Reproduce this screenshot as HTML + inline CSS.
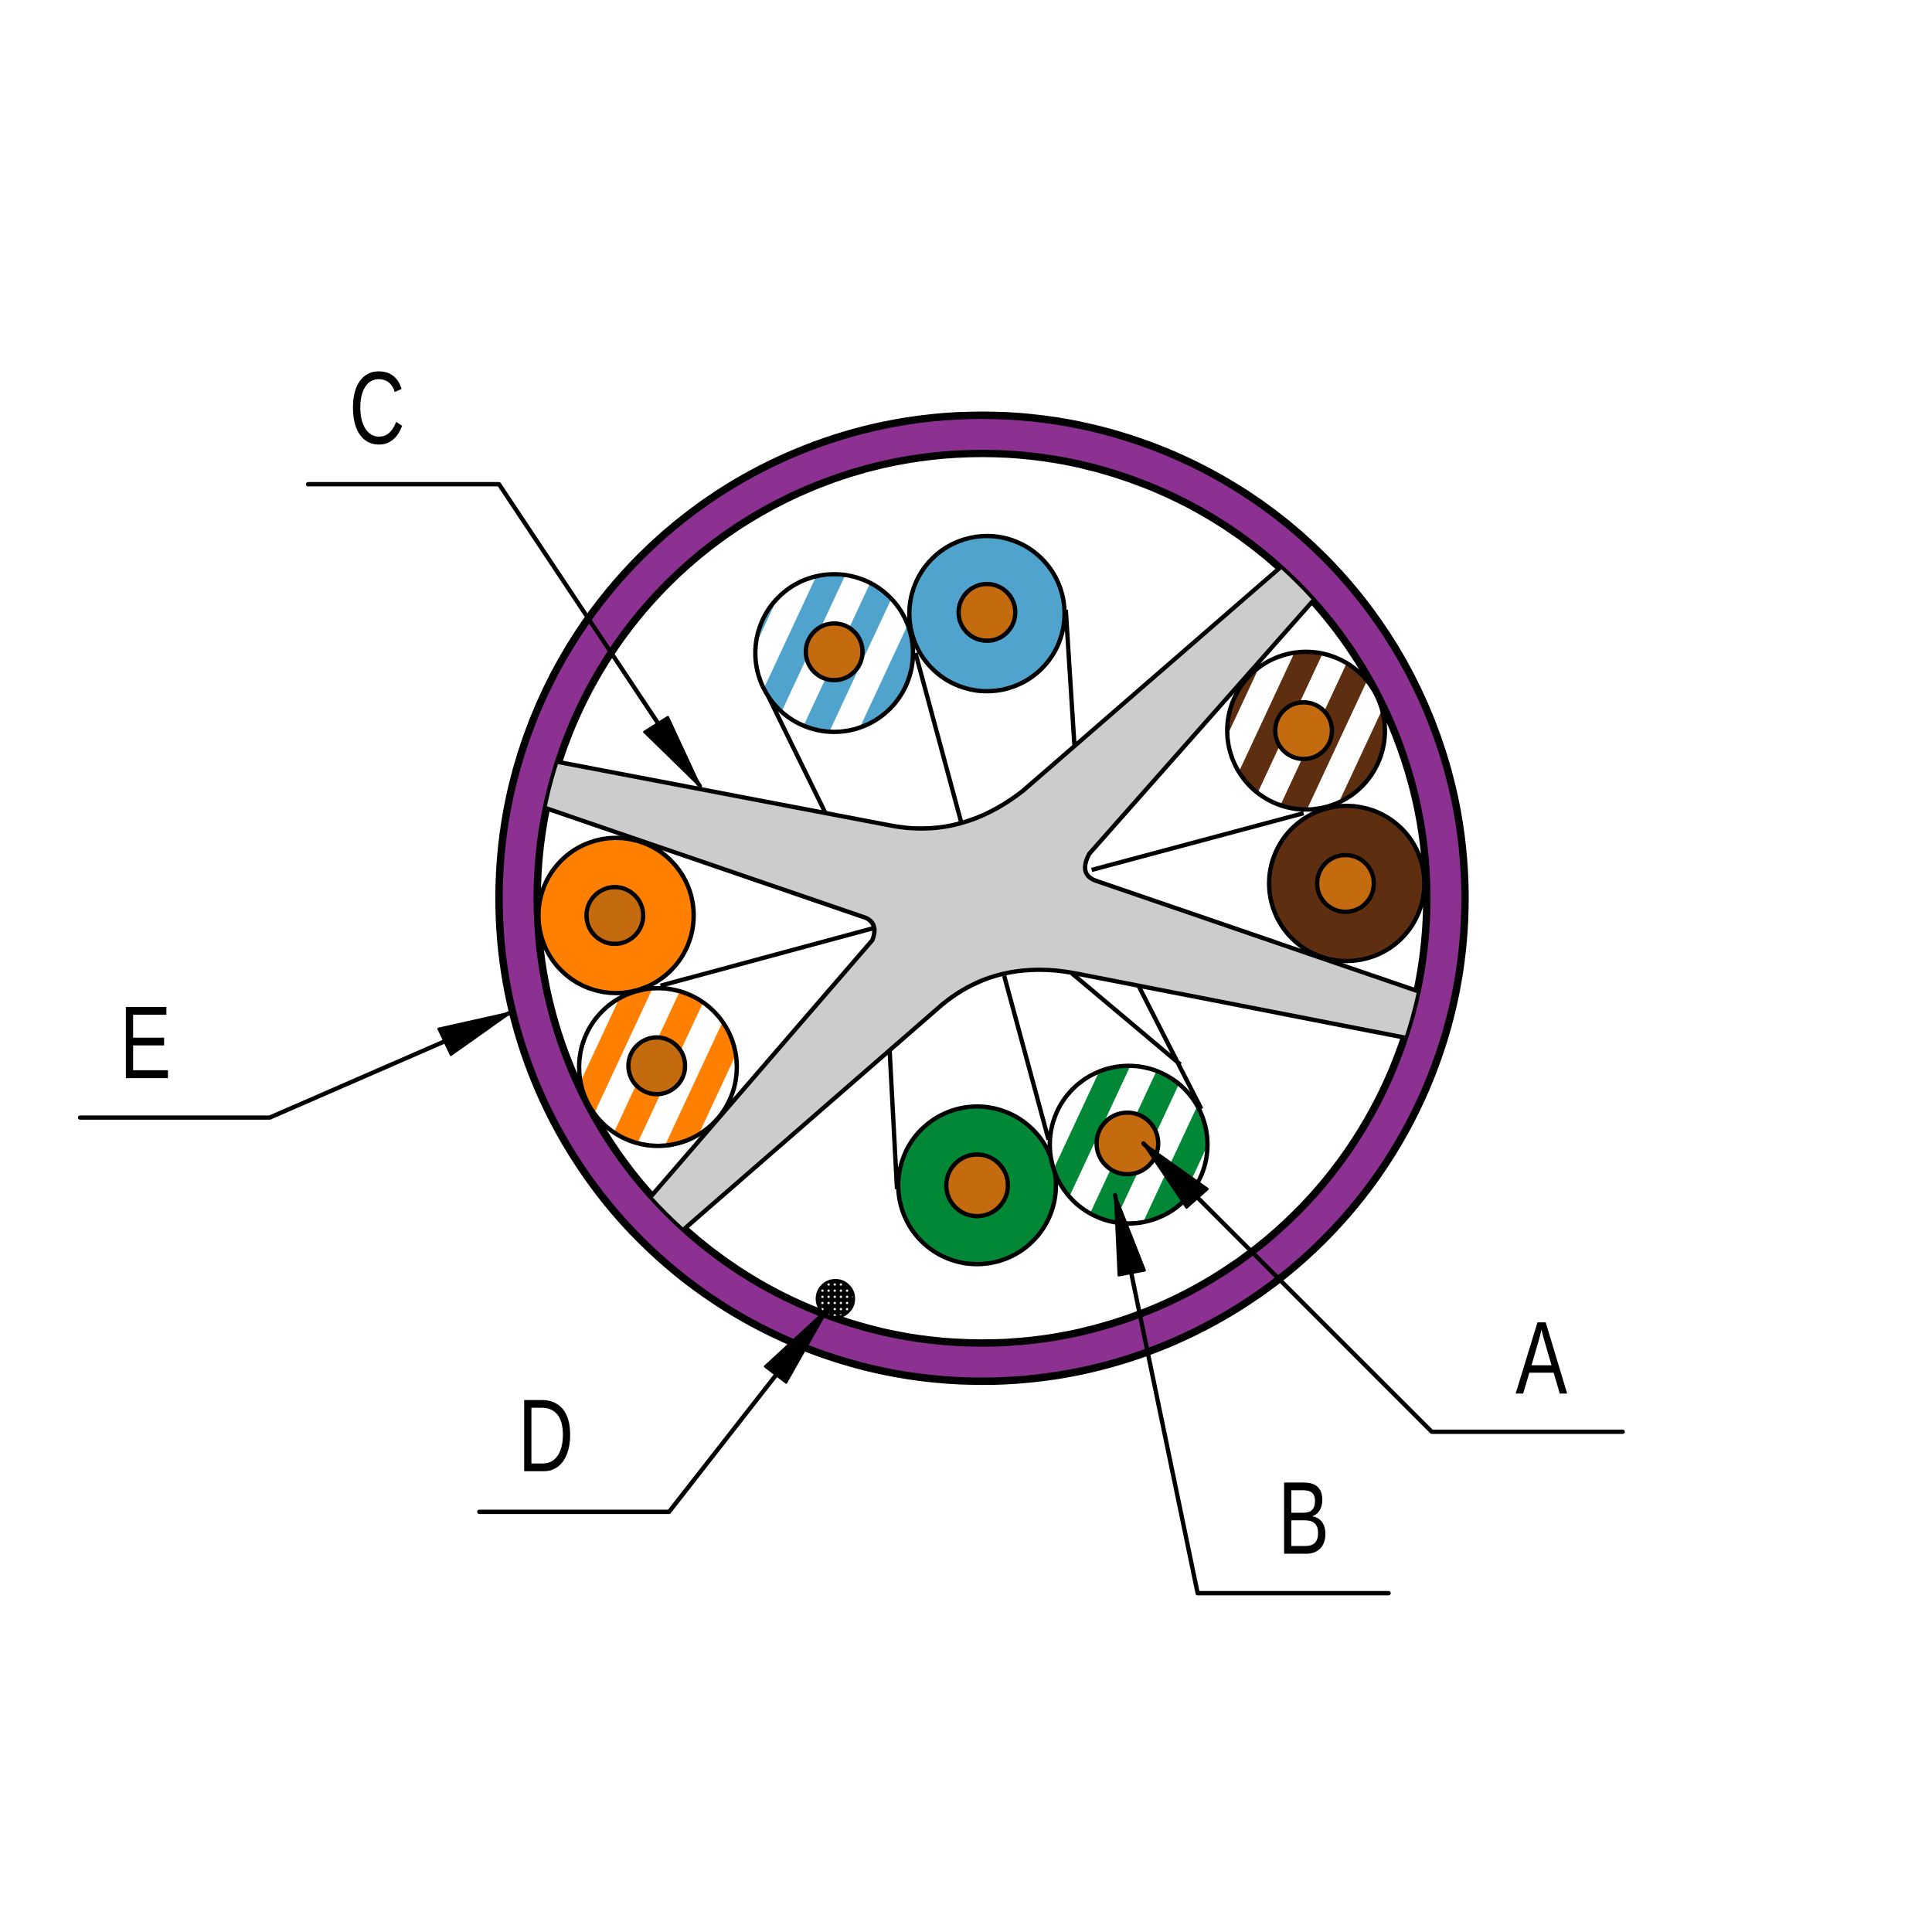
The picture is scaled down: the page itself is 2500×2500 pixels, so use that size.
<!DOCTYPE html>
<html><head><style>html,body{margin:0;padding:0;background:#fff}svg{display:block}</style></head><body>
<svg width="2500" height="2500" viewBox="0 0 1568 1568" xmlns="http://www.w3.org/2000/svg">
<defs>
<pattern id="sb" width="42" height="42" patternUnits="userSpaceOnUse" patternTransform="rotate(25)"><rect width="42" height="42" fill="#fff"/><rect width="21" height="42" fill="#4fa3cc"/></pattern>
<pattern id="sbr" width="42" height="42" patternUnits="userSpaceOnUse" patternTransform="rotate(25)"><rect width="42" height="42" fill="#fff"/><rect width="21" height="42" fill="#5e2e10"/></pattern>
<pattern id="so" width="42" height="42" patternUnits="userSpaceOnUse" patternTransform="rotate(25)"><rect width="42" height="42" fill="#fff"/><rect width="21" height="42" fill="#ff8000"/></pattern>
<pattern id="sg" width="42" height="42" patternUnits="userSpaceOnUse" patternTransform="rotate(25)"><rect width="42" height="42" fill="#fff"/><rect width="21" height="42" fill="#008837"/></pattern>
<pattern id="dots" width="5" height="5" patternUnits="userSpaceOnUse"><rect width="5" height="5" fill="#000"/><circle cx="2.5" cy="2.5" r="0.9" fill="#fff"/></pattern>
<clipPath id="inner"><circle cx="797" cy="729" r="361"/></clipPath>
</defs>
<circle cx="797" cy="729" r="377" fill="none" stroke="#8c3191" stroke-width="30"/>
<circle cx="797" cy="729" r="392" fill="none" stroke="#000" stroke-width="6"/>
<circle cx="797" cy="729" r="361" fill="#fff" stroke="#000" stroke-width="6"/>
<g clip-path="url(#inner)" stroke="#000" stroke-width="3.5" fill="none">
<path d="M430,614 L723,670 Q780,681 830,642 L1050,451 L1075,477 L884,693 Q875,710 890,715 L1170,811 L1160,846 L873,790 Q810,778 765,815 L542,1009 L518,983 L708,763 Q713,750 703,745 L420,648 Z" fill="#cccccc"/>
<line x1="620" y1="558" x2="670" y2="660"/>
<line x1="743" y1="530" x2="780" y2="667"/>
<line x1="865" y1="495" x2="872" y2="605"/>
<line x1="886" y1="706" x2="1058" y2="660"/>
<line x1="536" y1="800" x2="710" y2="753"/>
<line x1="722" y1="852" x2="728" y2="965"/>
<line x1="815" y1="792" x2="851" y2="925"/>
<line x1="870" y1="790" x2="958" y2="864"/>
<line x1="924" y1="800" x2="975" y2="900"/>
</g>
<g stroke="#000" stroke-width="3.5">
<circle cx="677" cy="530" r="64" fill="url(#sb)"/><circle cx="677" cy="529" r="23" fill="#c46a0f"/>
<circle cx="801" cy="498" r="63" fill="#4fa3cc"/><circle cx="801" cy="497" r="23" fill="#c46a0f"/>
<circle cx="1060" cy="593" r="64" fill="url(#sbr)"/><circle cx="1058" cy="593" r="23" fill="#c46a0f"/>
<circle cx="1093" cy="717" r="63" fill="#5e2e10"/><circle cx="1092" cy="717" r="23" fill="#c46a0f"/>
<circle cx="500" cy="743" r="63" fill="#ff8000"/><circle cx="499" cy="743" r="23" fill="#c46a0f"/>
<circle cx="534" cy="866" r="64" fill="url(#so)"/><circle cx="533" cy="865" r="23" fill="#c46a0f"/>
<circle cx="793" cy="962" r="64" fill="#008837"/><circle cx="793" cy="962" r="25" fill="#c46a0f"/>
<circle cx="916" cy="929" r="64" fill="url(#sg)"/><circle cx="915" cy="928" r="25" fill="#c46a0f"/>
</g>
<circle cx="678" cy="1054" r="15" fill="url(#dots)" stroke="#000" stroke-width="2"/>
<g stroke="#000" stroke-width="3.5" fill="none" stroke-linecap="round" stroke-linejoin="round">
<polyline points="250,393 405,393 568,638"/>
<polyline points="1317,1162 1162,1162 928,928"/>
<polyline points="1127,1293 972,1293 905,970"/>
<polyline points="389,1227 543,1227 672,1062"/>
<polyline points="65,907 219,907 414,822"/>
</g>
<g fill="#000" stroke="#000" stroke-width="2" stroke-linejoin="round">
<polygon points="568,638 523,594 542,582"/>
<polygon points="928,928 980,965 963,980"/>
<polygon points="905,970 929,1031 908,1035"/>
<polygon points="672,1062 638,1122 621,1109"/>
<polygon points="414,822 366,856 356,835"/>
</g>
<g font-family="Liberation Sans, sans-serif" font-size="84" fill="#000" text-anchor="middle">
<text transform="translate(306,360) scale(0.75,1)">C</text>
<text transform="translate(118,875) scale(0.75,1)">E</text>
<text transform="translate(1251,1131) scale(0.75,1)">A</text>
<text transform="translate(1058,1261) scale(0.75,1)">B</text>
<text transform="translate(443,1194) scale(0.75,1)">D</text>
</g>
</svg>
</body></html>
